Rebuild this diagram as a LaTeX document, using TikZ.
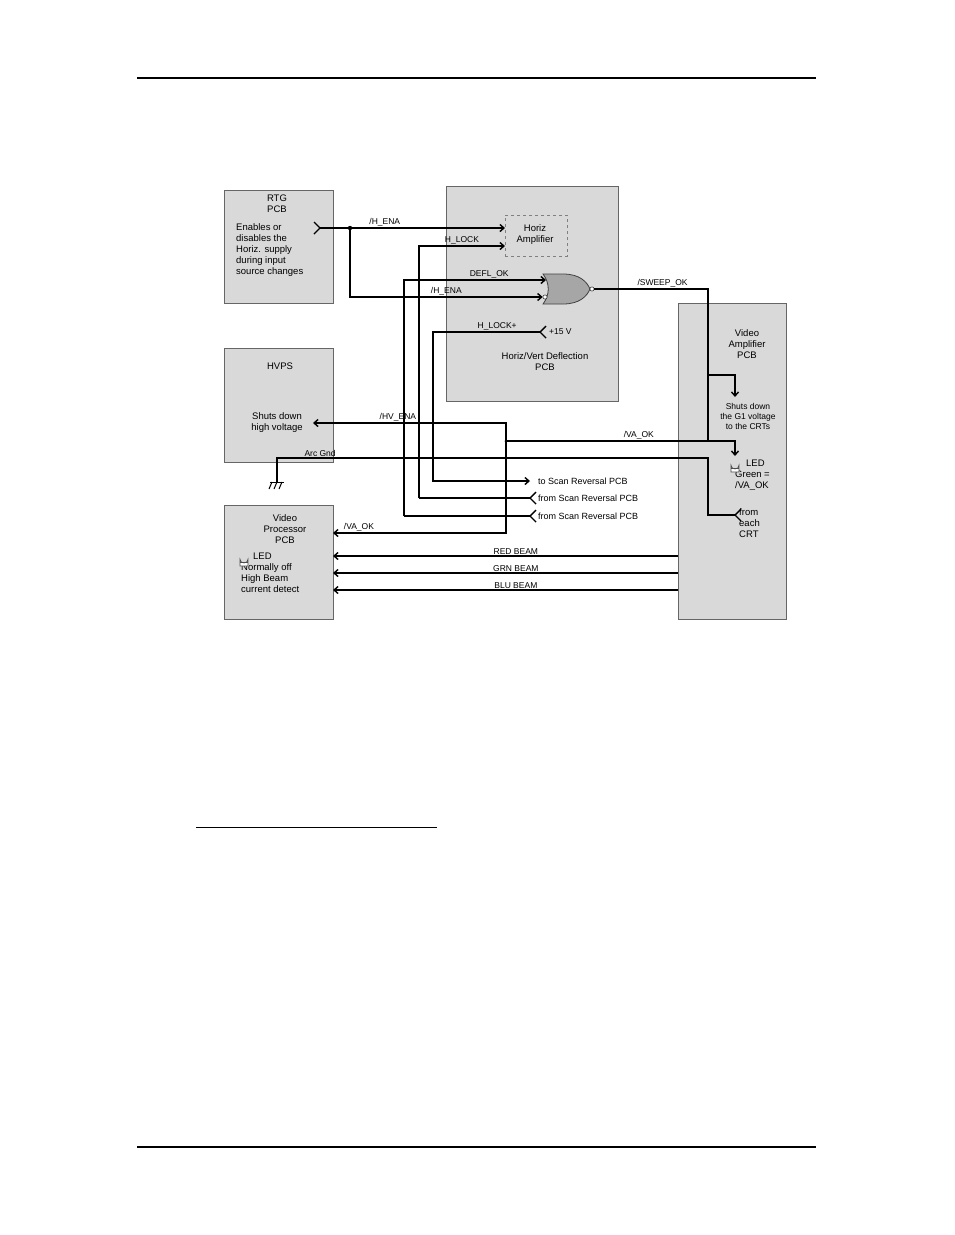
\documentclass[tikz,border=0pt]{standalone}
\usepackage{fontspec}
\setmainfont{Liberation Sans}
\usetikzlibrary{arrows.meta}
\tikzset{
  board/.style={draw=gray!80!black, fill=gray!30, line width=0.8pt, anchor=north west, inner sep=0pt},
  wire/.style={line width=1.4pt},
  sig/.style={wire, -{Straight Barb[length=4pt,width=7pt]}},
  lbl/.style={font=\fontsize{8.5}{10}\selectfont, inner sep=1pt},
  txt/.style={font=\fontsize{9.5}{11}\selectfont, align=center, inner sep=0pt}
}
\newcommand{\chevL}[1]{\draw[wire] ($(#1)+(6,-6)$) -- (#1) -- ($(#1)+(6,6)$);}
\newcommand{\chevR}[1]{\draw[wire] ($(#1)+(-6,-6)$) -- (#1) -- ($(#1)+(-6,6)$);}
\newcommand{\ledsym}[1]{\draw[gray!60!black, fill=white, line width=0.6pt] ($(#1)+(-4,6)$) -- ($(#1)+(-4,-1)$) arc(180:0:4) -- ($(#1)+(4,6)$) -- cycle; \draw[gray!60!black] ($(#1)+(-4,2)$) -- ($(#1)+(4,2)$);}
\usetikzlibrary{calc}
\begin{document}
\begin{tikzpicture}[x=1pt, y=-1pt]
\useasboundingbox (0,0) rectangle (954,1235);
% page rules
\draw[line width=1.2pt] (137,78) -- (816,78);
\draw[line width=1.2pt] (137,1147) -- (816,1147);
\draw[line width=0.6pt] (196,827) -- (437,827);

% boards
\node[board, minimum width=109pt, minimum height=113pt] (rtg) at (224,190) {};
\node[board, minimum width=109pt, minimum height=114pt] (hvps) at (224,348) {};
\node[board, minimum width=109pt, minimum height=114pt] (vproc) at (224,505) {};
\node[board, minimum width=172pt, minimum height=215pt] (defl) at (446,186) {};
\node[board, minimum width=108pt, minimum height=316pt] (vamp) at (678,303) {};
\node[draw=gray, dashed, anchor=north west, minimum width=62pt, minimum height=41pt, inner sep=0pt] (hamp) at (505,215) {};

% board texts
\node[txt] (rtgt) at (277,204) {RTG\\PCB};
\node[txt, align=left, anchor=north west] (rtgd) at (236,223) {Enables or\\disables the\\Horiz. supply\\during input\\source changes};
\node[txt] (hvpst) at (280,366) {HVPS};
\node[txt] (hvpsd) at (277,423) {Shuts down\\high voltage};
\node[txt] (vprt) at (285,529) {Video\\Processor\\PCB};
\node[txt, align=left, anchor=north west] (vprd) at (241,553) {\hspace{12pt}LED\\Normally off\\High Beam\\current detect};
\ledsym{244,560}
\node[txt] (hampt) at (535,235) {Horiz\\Amplifier};
\node[txt] (deflt) at (545,362) {Horiz/Vert Deflection\\PCB};
\node[txt] (vampt) at (747,344) {Video\\Amplifier\\PCB};
\node[txt, font=\fontsize{8.5}{10}\selectfont] (shut) at (748,416) {Shuts down\\the G1 voltage\\to the CRTs};
\node[txt, align=left, anchor=north west] (led) at (735,460) {\hspace{11pt}LED\\Green =\\/VA\_OK};
\ledsym{735,466}
\node[txt, align=left, anchor=north west] (crt) at (739,508) {from\\each\\CRT};

% OR gate
\coordinate (g) at (543,274);
\draw[fill=gray!70, draw=gray!50!black, line width=0.8pt] (g) -- ++(20,0) .. controls (580,274) and (587,282) .. (590,289)
  .. controls (587,296) and (580,304) .. (563,304) -- (543,304) .. controls (550,295) and (550,283) .. (543,274) -- cycle;
\node[circle, draw, fill=white, inner sep=1.5pt] (gout) at (592,289) {};
\node[circle, draw, fill=white, inner sep=1.5pt] (ginb) at (545,297) {};
\coordinate (gina) at (546,280);

% RTG /H_ENA
\coordinate (rtgo) at (320,228);
\chevR{rtgo}
\fill (350,228) circle (2.2);
\draw[sig] (rtgo) -- (505,228) node[lbl, pos=0.35, above] {/H\_ENA};
\draw[sig] (350,228) |- (ginb.west) node[lbl, pos=0.75, above] {/H\_ENA};
% H_LOCK
\draw[sig] (419,498) |- (505,246) node[lbl, pos=0.75, above] {H\_LOCK};
% DEFL_OK
\draw[sig] (404,516) |- (gina) node[lbl, pos=0.8, above] {DEFL\_OK};
% H_LOCK+
\coordinate (p15) at (540,332);
\chevL{p15}
\node[lbl, anchor=west] (p15t) at (548,332) {+15 V};
\draw[sig] (p15) -| (433,481) node[lbl, pos=0.2, above] {H\_LOCK+} -- (530,481);
\node[lbl, anchor=west, font=\fontsize{9}{10}\selectfont] (sr1) at (537,481) {to Scan Reversal PCB};
\coordinate (sr2c) at (530,498);
\coordinate (sr3c) at (530,516);
\chevL{sr2c}
\chevL{sr3c}
\draw[wire] (sr2c) -- (419,498);
\draw[wire] (sr3c) -- (404,516);
\node[lbl, anchor=west, font=\fontsize{9}{10}\selectfont] (sr2) at (537,498) {from Scan Reversal PCB};
\node[lbl, anchor=west, font=\fontsize{9}{10}\selectfont] (sr3) at (537,516) {from Scan Reversal PCB};

% /SWEEP_OK
\draw[wire] (gout.east) -| (708,441) node[lbl, pos=0.3, above] {/SWEEP\_OK};
\draw[sig] (708,375) -| (735,397);
% /VA_OK bus
\draw[sig] (506,441) -- (735,441) node[lbl, pos=0.58, above] {/VA\_OK} -- (735,456);
\fill (506,441) circle (1.5);
\draw[sig] (506,423) -- (506,533) -- (333,533) node[lbl, pos=0.85, above] {/VA\_OK};
\draw[sig] (506,441) |- (313,423) node[lbl, pos=0.78, above] {/HV\_ENA};
% Arc Gnd
\coordinate (crtc) at (708,515);
\draw[wire] (277,482) |- (708,458) node[lbl, pos=0.55, above] {Arc Gnd} -- (708,515) -- (735,515);
\coordinate (crtch) at (735,515);
\chevL{crtch}
\draw[line width=1pt] (270,482) -- (284,482);
\foreach \k in {0,1,2} \draw[line width=1pt] (272+5*\k,482) -- (269+5*\k,489);
% beams
\draw[sig] (678,556) -- (333,556) node[lbl, pos=0.47, above] {RED BEAM};
\draw[sig] (678,573) -- (333,573) node[lbl, pos=0.47, above] {GRN BEAM};
\draw[sig] (678,590) -- (333,590) node[lbl, pos=0.47, above] {BLU BEAM};
\end{tikzpicture}
\end{document}
